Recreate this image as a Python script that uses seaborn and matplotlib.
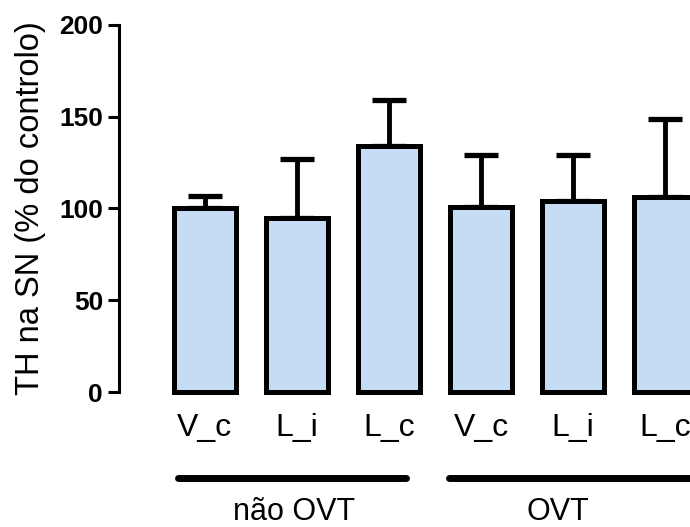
import matplotlib
matplotlib.use("Agg")
import matplotlib.pyplot as plt
import seaborn as sns
import pandas as pd
import numpy as np

# ---- data ----
categories = ["V_c", "L_i", "L_c", "V_c ", "L_i ", "L_c "]
tick_labels = ["V_c", "L_i", "L_c", "V_c", "L_i", "L_c"]
means = [100, 95, 134, 101, 104, 106]
errors = [7, 32, 25, 28, 25, 43]
groups = ["não OVT", "OVT"]
y_ticks = [0, 50, 100, 150, 200]

sns.set_theme(style="ticks")
plt.rcParams['font.family'] = ['Liberation Sans', 'DejaVu Sans']
plt.rcParams.update({"text.color": "black", "axes.labelcolor": "black",
                     "xtick.color": "black", "ytick.color": "black",
                     "axes.edgecolor": "black"})

fig = plt.figure(figsize=(6.9, 5.27), dpi=100)
H = 527.0
W = 690.0
y0_px, y200_px = 392.0, 25.0
ax = fig.add_axes([119 / W, (H - y0_px) / H, 1 - 119 / W, (y0_px - y200_px) / H])

df = pd.DataFrame({"cond": categories, "val": means})
sns.barplot(data=df, x="cond", y="val", order=categories, color="#c6dcf5",
            saturation=1, width=0.67, edgecolor="black", linewidth=3.6,
            errorbar=None, ax=ax)
for p in ax.patches:
    p.set_clip_on(False)
    p.set_joinstyle("miter")

x = np.arange(len(categories))
ax.errorbar(x, means, yerr=[np.zeros(len(errors)), errors], fmt="none",
            ecolor="black", elinewidth=3.5, capsize=12.5, capthick=3.8,
            clip_on=False, zorder=0)

ax.set_ylim(0, 200)
ax.set_xlim(-0.933, 5.27)
ax.set_yticks(y_ticks)
ax.set_yticklabels([str(v) for v in y_ticks], fontsize=19, fontweight="bold")
ax.set_xticks(x)
ax.set_xticklabels(tick_labels, fontsize=23)
ax.tick_params(axis="x", length=0, pad=15)
ax.tick_params(axis="y", length=8, width=2.2, pad=3.5, direction="out")
ax.set_xlabel("")
ax.set_ylabel("TH na SN (% do controlo)", fontsize=23.5)
ax.yaxis.set_label_coords((46 - 119) / (W - 119), 0.5)

sns.despine(ax=ax, top=True, right=True, bottom=True)
ax.spines["left"].set_linewidth(2.2)

# group lines and labels
scale = (y0_px - y200_px) / 200
yline = -(478 - y0_px) / scale
ylab = -(512 - y0_px) / scale
ax.plot([-0.29, 2.19], [yline, yline], color="black", lw=5,
        solid_capstyle="round", clip_on=False)
ax.plot([2.65, 5.6], [yline, yline], color="black", lw=5,
        solid_capstyle="round", clip_on=False)
ax.text(0.97, ylab, groups[0], ha="center", va="center", fontsize=22)
ax.text(3.83, ylab, groups[1], ha="center", va="center", fontsize=22)

fig.savefig("out.png", dpi=100)
